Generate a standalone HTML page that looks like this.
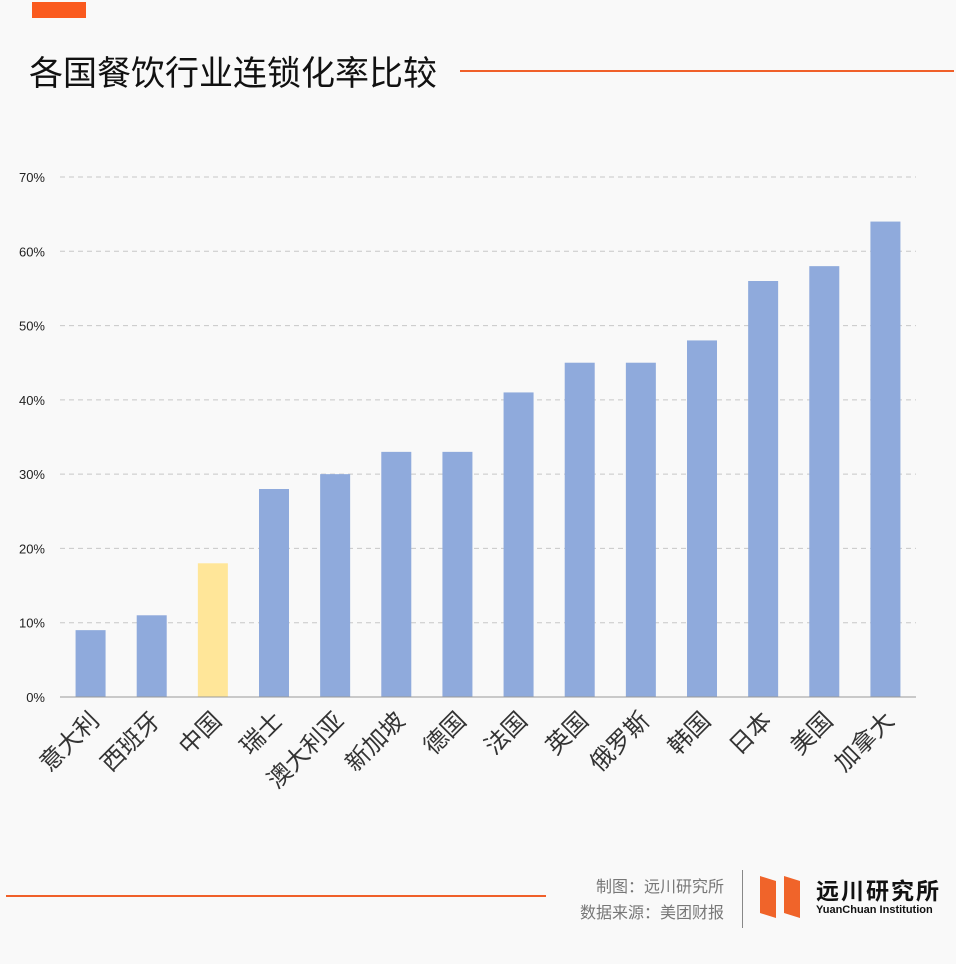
<!DOCTYPE html>
<html><head><meta charset="utf-8"><style>
body{margin:0;background:#fff;}
#page{position:relative;width:956px;height:964px;background:#f9f9f9;overflow:hidden;font-family:"Liberation Sans","Noto Sans CJK SC",sans-serif;}
.abs{position:absolute;}
</style></head><body>
<div id="page">
<div class="abs" style="left:32px;top:2px;width:54px;height:16px;background:#fa5a1e;"></div>
<div class="abs" style="left:29px;top:46px;font-size:34px;color:#111;font-family:'Noto Sans CJK SC',sans-serif;line-height:50px;">各国餐饮行业连锁化率比较</div>
<div class="abs" style="left:460px;top:70px;width:494px;height:2px;background:#f0602a;"></div>
<svg class="abs" style="left:0;top:0" width="956" height="964" id="chart"></svg>
<div class="abs" style="left:6px;top:895px;width:540px;height:2px;background:#f0602a;"></div>
<div class="abs" style="right:232px;top:872px;text-align:right;font-size:16px;line-height:26px;color:#777;font-family:'Noto Sans CJK SC',sans-serif;">制图：远川研究所<br>数据来源：美团财报</div>
<div class="abs" style="left:742px;top:870px;width:1px;height:58px;background:#888;"></div>
<svg class="abs" style="left:760px;top:876px" width="46" height="42"><polygon points="0,0 16,5 16,42 0,37" fill="#f0642a"/><polygon points="24,0 40,5 40,42 24,37" fill="#f0642a"/></svg>
<div class="abs" style="left:816px;top:874px;font-size:23px;font-weight:bold;letter-spacing:2px;color:#111;font-family:'Noto Sans CJK SC',sans-serif;line-height:30px;">远川研究所</div>
<div class="abs" style="left:816px;top:904px;font-size:11px;font-weight:bold;color:#111;">YuanChuan Institution</div>
</div>
<script>
const categories=["意大利","西班牙","中国","瑞士","澳大利亚","新加坡","德国","法国","英国","俄罗斯","韩国","日本","美国","加拿大"];
const values=[9,11,18,28,30,33,33,41,45,45,48,56,58,64];
const ticks=[0,10,20,30,40,50,60,70];
const svg=document.getElementById('chart');
const NS='http://www.w3.org/2000/svg';
const x0=60,x1=916,y0=697,y70=177;
const y=v=>y0-(v/70)*(y0-y70);
const step=(x1-x0)/categories.length;
const xc=i=>x0+step*(i+0.5);
function mk(t,a){const e=document.createElementNS(NS,t);for(const k in a)e.setAttribute(k,a[k]);svg.appendChild(e);return e;}
ticks.forEach(t=>{
 if(t>0){const l=mk('line',{x1:x0,x2:x1,y1:y(t),y2:y(t),stroke:'#c8c8c8','stroke-dasharray':'5,4','stroke-width':1});
 
 }
 const tx=mk('text',{x:45,y:y(t)+5,'text-anchor':'end','font-size':13,fill:'#222'});tx.textContent=t+'%';
 
 
});
categories.forEach((c,i)=>{
 const r=mk('rect',{x:xc(i)-15,y:y(values[i]),width:30,height:y0-y(values[i]),fill:c==='中国'?'#ffe699':'#8faadc'});
 
 
 const ax=xc(i)+10, ay=722;
 const t=mk('text',{x:ax,y:ay,'text-anchor':'end','font-size':24,fill:'#333','font-family':'Noto Sans CJK SC,sans-serif',transform:`rotate(-45 ${ax} ${ay})`});
 t.textContent=c;
 
 
});
const ax=mk('line',{x1:x0,x2:x1,y1:y0,y2:y0,stroke:'#999','stroke-width':1});


</script>
</body></html>
